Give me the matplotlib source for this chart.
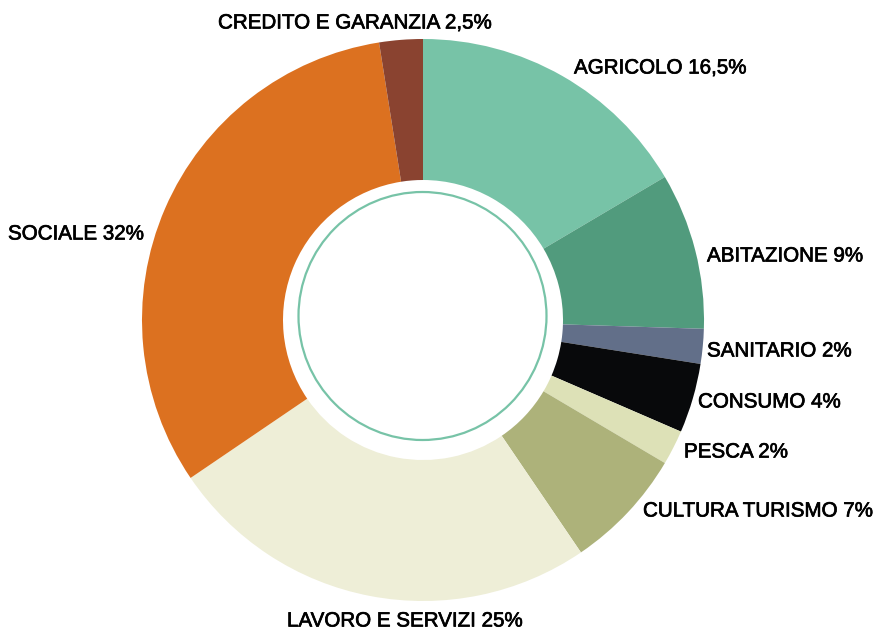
import matplotlib
matplotlib.use("Agg")
import matplotlib.pyplot as plt
from matplotlib.patches import Circle
import matplotlib.patheffects as pe

categories = ["AGRICOLO", "ABITAZIONE", "SANITARIO", "CONSUMO", "PESCA",
              "CULTURA TURISMO", "LAVORO E SERVIZI", "SOCIALE", "CREDITO E GARANZIA"]
values = [16.5, 9, 2, 4, 2, 7, 25, 32, 2.5]
value_labels = ["16,5%", "9%", "2%", "4%", "2%", "7%", "25%", "32%", "2,5%"]
colors = ["#77C3A7", "#519B7D", "#626F89", "#08090B", "#DDE1B7",
          "#ADB27A", "#EEEED7", "#DC7120", "#8A4330"]

# label anchor positions (pixels, left edge / vertical centre)
label_pos = [(574, 68), (707, 256), (707, 351), (698, 402), (684, 452),
             (643, 511), (287, 621), (8, 234), (218, 23)]

W, H = 875, 629
fig = plt.figure(figsize=(W / 100, H / 100), dpi=100)
ax = fig.add_axes([0, 0, 1, 1])
ax.set_xlim(0, W)
ax.set_ylim(H, 0)
ax.axis("off")

cx, cy = 423, 320
R, r_in = 281, 140

ax2 = fig.add_axes([0, 0, 1, 1])
ax2.pie(values, colors=colors, startangle=90, counterclock=False,
        center=(cx, H - cy), radius=R, frame=True,
        wedgeprops=dict(width=R - r_in, linewidth=0))
ax2.set_xlim(0, W)
ax2.set_ylim(0, H)
ax2.set_aspect("auto")
ax2.axis("off")

ax.add_patch(Circle((422.5, 316), 124, fill=False, edgecolor="#77C3A7", linewidth=1.6))

for cat, vl, (x, y) in zip(categories, value_labels, label_pos):
    ax.text(x, y, f"{cat} {vl}", ha="left", va="center", fontsize=14.8,
            family="Liberation Sans", color="#000000",
            path_effects=[pe.withStroke(linewidth=0.5, foreground="#000000")])

fig.savefig("out.png", dpi=100)
